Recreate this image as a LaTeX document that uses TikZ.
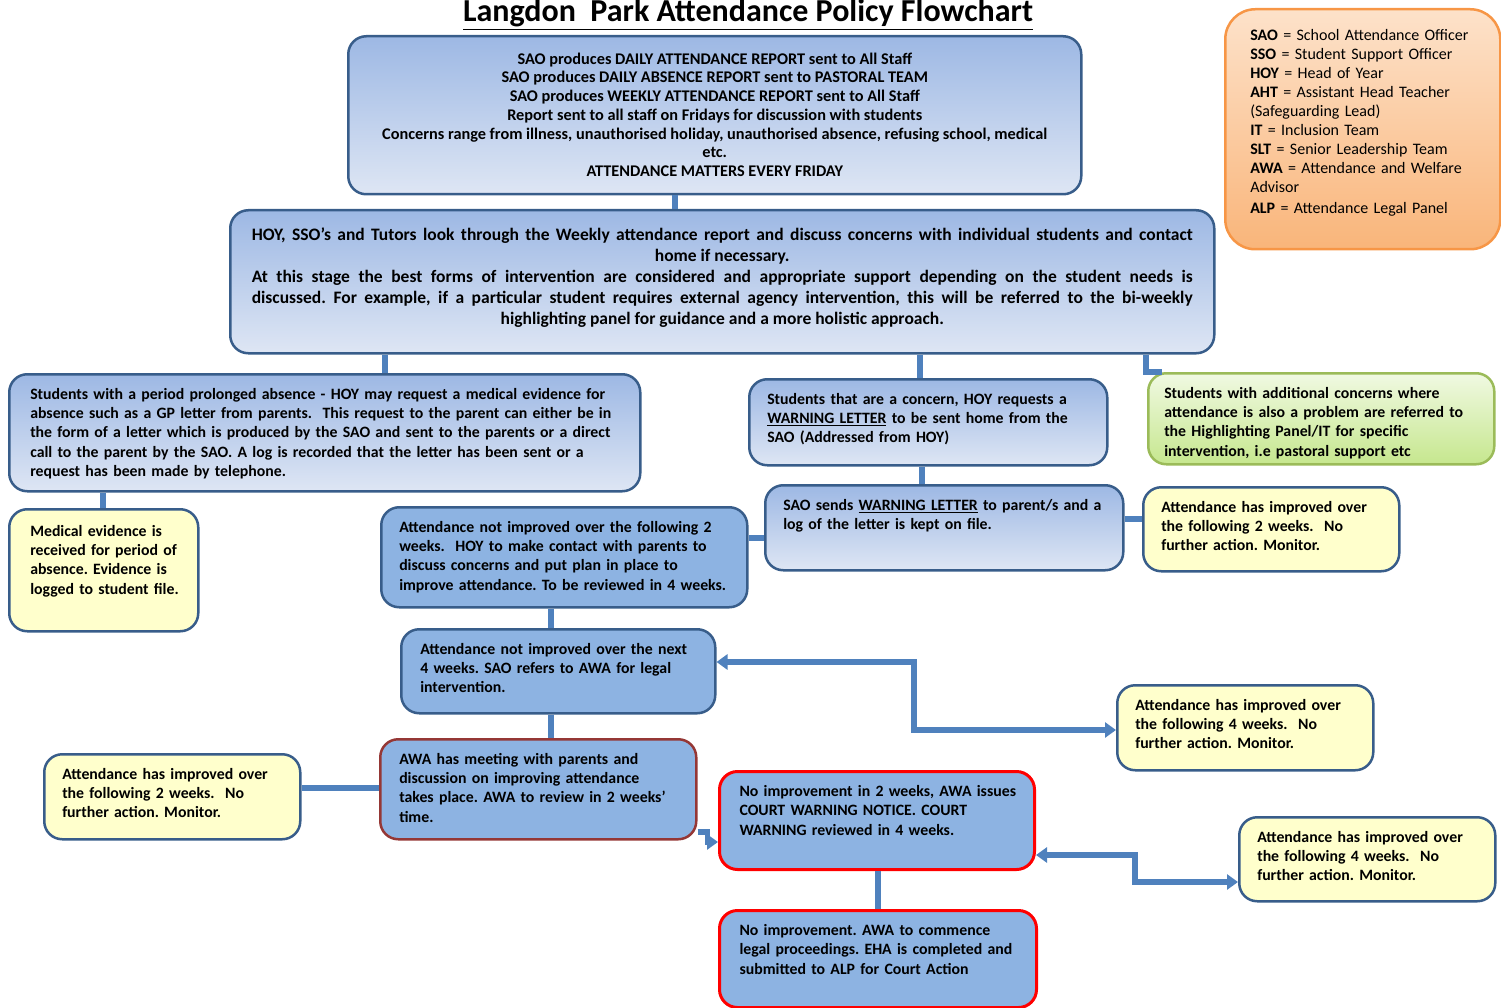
\documentclass[tikz,border=0pt]{standalone}
\usepackage{fontspec}
\setmainfont{Carlito}
\usepackage{color}
\usetikzlibrary{arrows.meta}
\frenchspacing

\definecolor{boxline}{HTML}{385D8A}
\definecolor{linkblue}{HTML}{4F81BD}
\definecolor{flatblue}{HTML}{8DB3E2}
\definecolor{shadetop}{HTML}{9DB8E4}
\definecolor{shadebot}{HTML}{DEE6F4}
\definecolor{noteyellow}{HTML}{FFFFCC}
\definecolor{greentop}{HTML}{F0F9E2}
\definecolor{greenbot}{HTML}{C6E78E}
\definecolor{greenline}{HTML}{9BBB59}
\definecolor{orangetop}{HTML}{FDE2CA}
\definecolor{orangebot}{HTML}{F9B57A}
\definecolor{orangeline}{HTML}{F79646}
\definecolor{alertred}{HTML}{FF0000}
\definecolor{darkred}{HTML}{953735}

\newcommand{\fullline}[1]{\leavevmode\hbox to 941pt{#1}}

\begin{document}
\begin{tikzpicture}[x=1pt, y=-1pt,
    box/.style={draw=boxline, line width=2.5pt, rounded corners=18pt, anchor=north west,
      inner xsep=0pt, inner ysep=11pt, text height=14pt, align=left, leftpad,
      font=\fontsize{15.8}{19.3}\selectfont\bfseries},
    leftpad/.style={execute at begin node={\leftskip=#1}}, leftpad/.default=18pt,
    centred/.style={align=flush center, leftpad=0pt plus 1fil},
    shaded/.style={box, top color=shadetop, bottom color=shadebot},
    flat/.style={box, fill=flatblue},
    note/.style={box, fill=noteyellow},
    urgent/.style={flat, draw=alertred, line width=3pt},
    link/.style={draw=linkblue, line width=5.5pt},
    >={Triangle[length=11pt,width=15pt]}]
    \useasboundingbox (0,0) rectangle (1501,1008);
    % Title and key
    \node[anchor=base, font=\fontsize{32}{34}\selectfont\bfseries] (title) at (748,22)
      {\underline{Langdon\ \ Park Attendance Policy Flowchart}};
    \node[box, draw=orangeline, top color=orangetop, bottom color=orangebot, rounded corners=30pt,
      font=\fontsize{16}{19}\selectfont, leftpad=25pt, text width=275pt, text height=20pt, text depth=198pt]
      (glossary) at (1224,8) {\textbf{SAO} = School Attendance Officer\\ \textbf{SSO} = Student Support Officer\\
      \textbf{HOY} = Head of Year\\ \textbf{AHT} = Assistant Head Teacher\\ (Safeguarding Lead)\\
      \textbf{IT} = Inclusion Team\\ \textbf{SLT} = Senior Leadership Team\\ \textbf{AWA} = Attendance and Welfare\\
      Advisor\\[2pt] \textbf{ALP} = Attendance Legal Panel};
    % Nodes
    \node[shaded, centred, font=\fontsize{16.3}{18.7}\selectfont\bfseries,
      text width=733pt, text height=17pt, text depth=119pt] (report) at (347,35)
      {SAO produces DAILY ATTENDANCE REPORT sent to All Staff\\
      SAO produces DAILY ABSENCE REPORT sent to PASTORAL TEAM\\
      SAO produces WEEKLY ATTENDANCE REPORT sent to All Staff\\
      Report sent to all staff on Fridays for discussion with students\\
      Concerns range from illness, unauthorised holiday, unauthorised absence, refusing school, medical\\
      etc.\\ ATTENDANCE MATTERS EVERY FRIDAY};
    \node[shaded, centred, font=\fontsize{17.5}{21}\selectfont\bfseries,
      text width=984pt, text height=19pt, text depth=102pt] (review) at (229,209)
      {\fullline{HOY, SSO's and Tutors look through the Weekly attendance report and discuss concerns with individual students and contact}\\
      home if necessary.\\
      \fullline{At this stage the best forms of intervention are considered and appropriate support depending on the student needs is}\\
      \fullline{discussed. For example, if a particular student requires external agency intervention, this will be referred to the bi-weekly}\\
      highlighting panel for guidance and a more holistic approach.};
    \node[shaded, leftpad=21pt, text width=631pt, text depth=81pt] (prolonged) at (8,373)
      {Students with a period prolonged absence - HOY may request a medical evidence for\\
      absence such as a GP letter from parents.~ This request to the parent can either be in\\
      the form of a letter which is produced by the SAO and sent to the parents or a direct\\
      call to the parent by the SAO. A log is recorded that the letter has been sent or a\\
      request has been made by telephone.};
    \node[note, leftpad=21pt, text width=189pt, text height=16pt, text depth=84pt] (medical) at (8,508)
      {Medical evidence is\\ received for period of\\ absence. Evidence is\\ logged to student file.};
    \node[shaded, text width=358pt, text depth=50pt] (concern) at (748,378)
      {Students that are a concern, HOY requests a\\
      \underline{WARNING LETTER} to be sent home from the\\ SAO (Addressed from HOY)};
    \node[box, draw=greenline, top color=greentop, bottom color=greenbot, leftpad=16pt,
      text width=346pt, text depth=55pt] (referral) at (1147,372)
      {Students with additional concerns where\\ attendance is also a problem are referred to\\
      the Highlighting Panel/IT for specific\\ intervention, i.e pastoral support etc};
    \node[shaded, text width=358pt, text depth=49pt] (warning) at (764,484)
      {SAO sends \underline{WARNING LETTER} to parent/s and a\\ log of the letter is kept on file.};
    \node[note, text width=256pt, text depth=48pt] (improvedA) at (1142,486)
      {Attendance has improved over\\ the following 2 weeks.~ No\\ further action. Monitor.};
    \node[flat, text width=366pt, text depth=64pt] (notimproved) at (380,506)
      {Attendance not improved over the following 2\\ weeks.~ HOY to make contact with parents to\\
      discuss concerns and put plan in place to\\ improve attendance. To be reviewed in 4 weeks.};
    \node[flat, leftpad=19pt, text width=314pt, text depth=48pt] (awareferral) at (400,628)
      {Attendance not improved over the next\\ 4 weeks. SAO refers to AWA for legal\\ intervention.};
    \node[note, text width=256pt, text depth=49pt] (improvedB) at (1116,684)
      {Attendance has improved over\\ the following 4 weeks.~ No\\ further action. Monitor.};
    \node[flat, draw=darkred, leftpad=19pt, text width=316pt, text depth=64pt] (awameeting) at (379,738)
      {AWA has meeting with parents and\\ discussion on improving attendance\\
      takes place. AWA to review in 2 weeks'\\ time.};
    \node[note, text width=256pt, text depth=49pt] (improvedC) at (43,753)
      {Attendance has improved over\\ the following 2 weeks.~ No\\ further action. Monitor.};
    \node[urgent, leftpad=20pt, text width=315pt, text depth=62pt] (courtnotice) at (718,770)
      {No improvement in 2 weeks, AWA issues\\ COURT WARNING NOTICE. COURT\\ WARNING reviewed in 4 weeks.};
    \node[note, text width=256pt, text depth=48pt] (improvedD) at (1238,816)
      {Attendance has improved over\\ the following 4 weeks.~ No\\ further action. Monitor.};
    \node[urgent, leftpad=20pt, text width=317pt, text depth=61pt] (legal) at (718,909)
      {No improvement. AWA to commence\\ legal proceedings. EHA is completed and\\ submitted to ALP for Court Action};
    % Links
    \draw[link] (report.south -| 675,0) -- (review.north -| 675,0);
    \draw[link] (review.south -| 385,0) -- (prolonged.north -| 385,0);
    \draw[link] (review.south -| 920,0) -- (concern.north -| 920,0);
    \draw[link] (review.south -| 1146,0) |- (referral.north west -| 1162,0);
    \draw[link] (prolonged.south -| 103,0) -- (medical.north -| 103,0);
    \draw[link] (concern.south -| 922,0) -- (warning.north -| 922,0);
    \draw[link] (warning.east |- 0,519) -- (improvedA.west |- 0,519);
    \draw[link] (warning.west |- 0,538) -- (notimproved.east |- 0,538);
    \draw[link] (notimproved.south -| 551,0) -- (awareferral.north -| 551,0);
    \draw[link,<->] (awareferral.east |- 0,662) -| (914,730) -- (improvedB.west |- 0,730);
    \draw[link] (awareferral.south -| 551,0) -- (awameeting.north -| 551,0);
    \draw[link] (awameeting.west |- 0,788) -- (improvedC.east |- 0,788);
    \draw[link,->] (awameeting.east |- 0,832) -- ++(10,0) |- (courtnotice.west |- 0,842);
    \draw[link] (courtnotice.south -| 878,0) -- (legal.north -| 878,0);
    \draw[link,<->] (courtnotice.east |- 0,855) -| (1135,882) -- (improvedD.west |- 0,882);
\end{tikzpicture}
\end{document}
